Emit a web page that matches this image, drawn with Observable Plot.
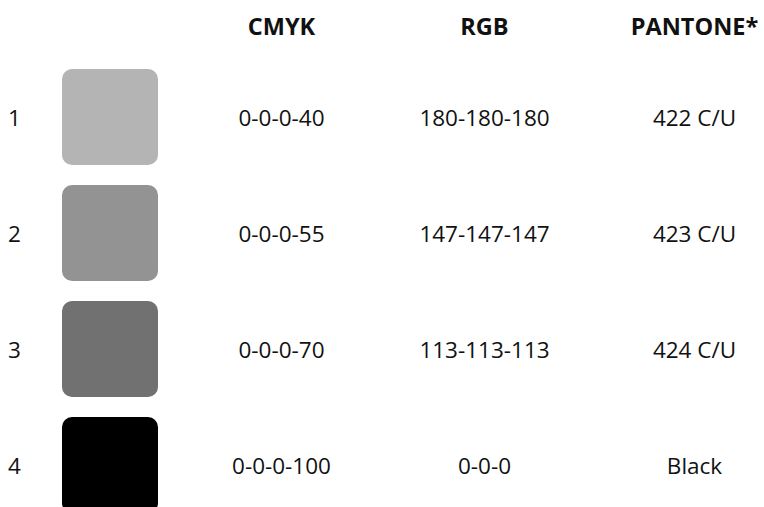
<!DOCTYPE html>
<html><head><meta charset="utf-8">
<script src="https://cdn.jsdelivr.net/npm/d3@7"></script>
<script src="https://cdn.jsdelivr.net/npm/@observablehq/plot@0.6"></script>
<style>body{margin:0;background:#fff;overflow:hidden}</style>
</head><body><div id="chart"></div>
<script>
const rows = ["1", "2", "3", "4"];
const swatchColors = ["#b4b4b4", "#939393", "#717171", "#000000"];
const cmyk = ["0-0-0-40", "0-0-0-55", "0-0-0-70", "0-0-0-100"];
const rgb = ["180-180-180", "147-147-147", "113-113-113", "0-0-0"];
const pantone = ["422 C/U", "423 C/U", "424 C/U", "Black"];
const columns = ["", "", "CMYK", "RGB", "PANTONE*"];

const table = rows.map((r, i) => ({row: r, color: swatchColors[i], cmyk: cmyk[i], rgb: rgb[i], pantone: pantone[i]}));

// column layout (scale configuration, not data)
const columnCenters = [14, 110, 281, 484, 694];

const font = "'Open Sans', sans-serif";
const ink = "#111";
const textOpts = {y: "row", fill: ink, fontSize: 22.5, fontFamily: font, dy: 1.5};

const plot = Plot.plot({
  width: 764,
  height: 507,
  marginTop: 40,
  marginBottom: 0,
  marginLeft: 0,
  marginRight: 0,
  style: {fontFamily: font, background: "#fff", color: ink},
  x: {type: "linear", domain: [0, 764], range: [0, 764], transform: (i) => columnCenters[i], axis: null},
  y: {type: "band", domain: rows, range: [59, 523], padding: 0, axis: null},
  color: {type: "identity"},
  marks: [
    Plot.axisX([2, 3, 4], {anchor: "top", tickSize: 0, tickPadding: 6, tickFormat: (i) => columns[i], fontWeight: "bold", fontSize: 23.5, fontFamily: font, fill: ink, textAnchor: "middle"}),
    Plot.barX(table, {x1: () => 1, x2: () => 1, y: "row", fill: "color", insetLeft: -48, insetRight: -48, insetTop: 10, insetBottom: 10, rx: 10, ry: 10}),
    Plot.text(table, {...textOpts, x: () => 0, text: "row"}),
    Plot.text(table, {...textOpts, x: () => 2, text: "cmyk"}),
    Plot.text(table, {...textOpts, x: () => 3, text: "rgb"}),
    Plot.text(table, {...textOpts, x: () => 4, text: "pantone"})
  ]
});
document.getElementById("chart").appendChild(plot);
</script>
</body></html>
